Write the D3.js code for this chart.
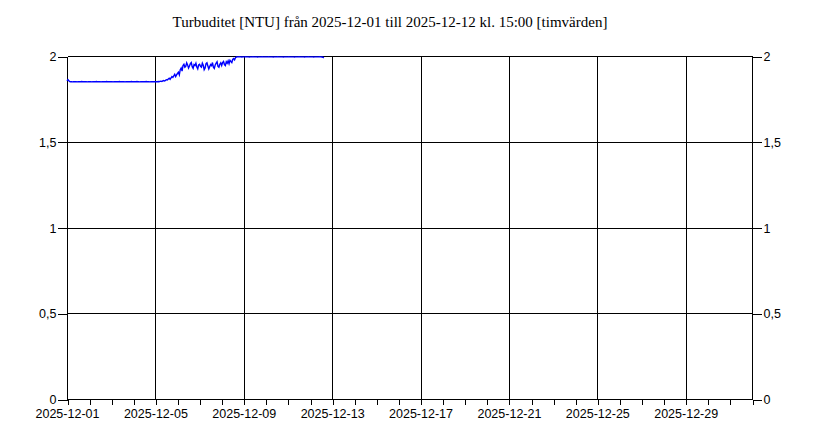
<!DOCTYPE html>
<html>
<head>
<meta charset="utf-8">
<script src="https://cdn.jsdelivr.net/npm/d3@7"></script>
<style>
  body { margin: 0; background: #fff; }
  svg { display: block; }
</style>
</head>
<body>
<svg width="820" height="444"></svg>
<script>
// Timvärden, turbiditet [NTU], från 2025-12-01 00:00 (ett värde per timme)
const startTime = "2025-12-01T00:00:00Z";
const endTime = "2026-01-01T00:00:00Z";

const day01 = [1.855,1.862,1.856,1.851,1.850,1.850,1.849,1.850,1.850,1.850,1.850,1.849,1.850,1.850,1.850,1.850,1.851,1.850,1.850,1.850,1.850,1.850,1.849,1.850];
const day02 = [1.850,1.850,1.850,1.849,1.850,1.850,1.850,1.850,1.851,1.850,1.850,1.850,1.850,1.849,1.850,1.850,1.850,1.850,1.850,1.851,1.850,1.850,1.850,1.850];
const day03 = [1.850,1.850,1.849,1.850,1.850,1.850,1.850,1.850,1.850,1.851,1.850,1.850,1.850,1.850,1.850,1.849,1.850,1.850,1.850,1.850,1.850,1.850,1.851,1.850];
const day04 = [1.850,1.850,1.850,1.850,1.851,1.850,1.850,1.849,1.850,1.850,1.850,1.850,1.850,1.850,1.851,1.850,1.850,1.850,1.849,1.850,1.850,1.850,1.850,1.850];
const day05 = [1.850,1.850,1.850,1.851,1.850,1.852,1.853,1.851,1.855,1.857,1.854,1.858,1.862,1.860,1.866,1.870,1.864,1.872,1.880,1.875,1.884,1.893,1.880,1.890];
const day06 = [1.898,1.905,1.890,1.920,1.930,1.912,1.945,1.952,1.935,1.940,1.960,1.948,1.930,1.942,1.955,1.962,1.938,1.928,1.950,1.945,1.958,1.936,1.925,1.948];
const day07 = [1.952,1.940,1.935,1.958,1.946,1.920,1.930,1.955,1.960,1.942,1.925,1.938,1.950,1.944,1.962,1.935,1.928,1.948,1.958,1.966,1.940,1.935,1.952,1.960];
const day08 = [1.945,1.962,1.968,1.950,1.944,1.966,1.958,1.972,1.955,1.975,1.968,1.962,1.980,1.985,1.978,1.990,1.994,1.995,1.995,1.996,1.995,1.995,1.994,1.995];
const day09 = [1.995,1.995,1.996,1.995,1.995,1.995,1.994,1.995,1.995,1.995,1.996,1.995,1.995,1.995,1.995,1.994,1.995,1.995,1.995,1.995,1.996,1.995,1.995,1.995];
const day10 = [1.995,1.995,1.995,1.996,1.995,1.995,1.995,1.995,1.994,1.995,1.995,1.995,1.995,1.996,1.995,1.995,1.995,1.995,1.995,1.994,1.995,1.995,1.995,1.995];
const day11 = [1.995,1.996,1.995,1.995,1.995,1.995,1.995,1.994,1.995,1.995,1.995,1.995,1.996,1.995,1.995,1.995,1.995,1.995,1.994,1.995,1.995,1.995,1.996,1.995];
const day12 = [1.995,1.995,1.995,1.995,1.994,1.995,1.995,1.995,1.995,1.995,1.996,1.995,1.995,1.994,1.993,1.989];

const yTicks = [0, 0.5, 1, 1.5, 2];
const xLabelDates = ["2025-12-01","2025-12-05","2025-12-09","2025-12-13","2025-12-17","2025-12-21","2025-12-25","2025-12-29"];

const title = "Turbuditet [NTU] från 2025-12-01 till 2025-12-12 kl. 15:00 [timvärden]";

function buildSeries() {
    const values = [].concat(day01, day02, day03, day04, day05, day06,
                             day07, day08, day09, day10, day11, day12);
    const t0 = new Date(startTime);
    return values.map((v, i) => ({ date: d3.utcHour.offset(t0, i), value: v }));
}

function drawGraph() {
    const svg = d3.select("svg");
    svg.selectAll('*').remove();

    const area = { left: 67, right: 752, top: 56, bottom: 399 };
    const font = "Arial, 'Liberation Sans', sans-serif";

    // svensk decimalkomma
    const sv = d3.formatLocale({ decimal: ",", thousands: " ", grouping: [3], currency: ["", " kr"] });
    const fmtY = sv.format("~g");

    const scX = d3.scaleUtc()
        .domain([new Date(startTime), new Date(endTime)])
        .range([area.left, area.right]);
    const scY = d3.scaleLinear()
        .domain([0, 2])
        .range([area.bottom, area.top]);

    const xLabels = xLabelDates.map(s => new Date(s + "T00:00:00Z"));
    const g = svg.append("g").attr("transform", "translate(0.5,0.5)");

    // rutnät
    g.append("g")
        .selectAll("line")
        .data(yTicks)
        .enter()
        .append("line")
        .attr("x1", area.left).attr("x2", area.right)
        .attr("y1", d => Math.round(scY(d))).attr("y2", d => Math.round(scY(d)))
        .attr("stroke", "#000")
        .attr("shape-rendering", "crispEdges");

    g.append("g")
        .selectAll("line")
        .data(xLabels)
        .enter()
        .append("line")
        .attr("x1", d => Math.round(scX(d))).attr("x2", d => Math.round(scX(d)))
        .attr("y1", area.top).attr("y2", area.bottom)
        .attr("stroke", "#000")
        .attr("shape-rendering", "crispEdges");

    // axlar
    const axisX = d3.axisBottom(scX)
        .ticks(d3.utcDay.every(1))
        .tickSize(5)
        .tickFormat("");
    g.append("g")
        .attr("transform", `translate(0, ${area.bottom})`)
        .call(axisX)
        .call(a => a.select(".domain").remove())
        .call(a => a.selectAll("line").attr("shape-rendering", "crispEdges"));

    g.append("line")
        .attr("x1", area.left).attr("x2", area.right)
        .attr("y1", area.bottom).attr("y2", area.bottom)
        .attr("stroke", "#000").attr("shape-rendering", "crispEdges");

    svg.append("g")
        .selectAll("text")
        .data(xLabels)
        .enter()
        .append("text")
        .attr("x", d => scX(d) + 0.5)
        .attr("y", 418)
        .attr("text-anchor", "middle")
        .style("font-family", font)
        .style("font-size", "12.5px")
        .attr("fill", "#000")
        .text(d => d3.utcFormat("%Y-%m-%d")(d));

    const axisL = d3.axisLeft(scY).tickValues(yTicks).tickSize(10).tickPadding(1).tickFormat(fmtY);
    const axisR = d3.axisRight(scY).tickValues(yTicks).tickSize(9).tickPadding(2).tickFormat(fmtY);

    [[axisL, area.left], [axisR, area.right]].forEach(([ax, x]) => {
        g.append("g")
            .attr("transform", `translate(${x}, 0)`)
            .call(ax)
            .call(a => a.select(".domain").attr("d", `M0,${area.top}V${area.bottom}`)
                                          .attr("shape-rendering", "crispEdges"))
            .call(a => a.selectAll("line").attr("shape-rendering", "crispEdges"))
            .call(a => a.selectAll("text")
                         .style("font-family", font)
                         .style("font-size", "12.5px")
                         .attr("fill", "#000"));
    });

    // kurvan
    const line = d3.line()
        .x(d => scX(d.date))
        .y(d => scY(d.value));
    svg.append("path")
        .datum(buildSeries())
        .attr("d", line)
        .attr("fill", "none")
        .attr("stroke", "#0000ff")
        .attr("stroke-width", 1.4);

    // rubrik
    svg.append("text")
        .attr("x", 390)
        .attr("y", 27)
        .attr("text-anchor", "middle")
        .style("font-family", "'Times New Roman', 'Liberation Serif', serif")
        .style("font-size", "15px")
        .attr("fill", "#000")
        .text(title);
}

drawGraph();
</script>
</body>
</html>
